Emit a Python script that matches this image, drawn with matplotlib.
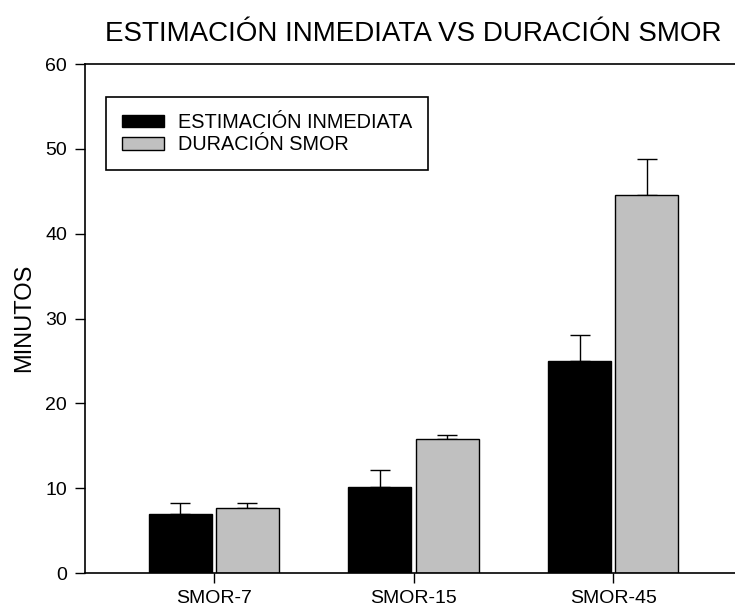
import numpy as np
import matplotlib.pyplot as plt

# datos
grupos = ["SMOR-7", "SMOR-15", "SMOR-45"]
estimacion = [6.9, 10.1, 25.0]
estimacion_err = [1.3, 2.0, 3.0]
duracion = [7.7, 15.8, 44.6]
duracion_err = [0.5, 0.5, 4.2]

plt.rcParams["font.family"] = ["Liberation Sans", "DejaVu Sans"]

W, H = 735, 608
fig = plt.figure(figsize=(W / 100, H / 100), dpi=100)
ax = fig.add_axes([85 / W, 1 - 573 / H, (742 - 85) / W, (573 - 64) / H])

x = np.arange(len(grupos))
ancho = 0.315
desp = 0.168

ax.bar(x - desp, estimacion, ancho, color="black", edgecolor="black",
       linewidth=1, label="ESTIMACIÓN INMEDIATA", zorder=2)
ax.bar(x + desp, duracion, ancho, color="#c0c0c0", edgecolor="black",
       linewidth=1, label="DURACIÓN SMOR", zorder=2)

ax.errorbar(x - desp, estimacion, yerr=[np.zeros(3), estimacion_err],
            fmt="none", ecolor="black", elinewidth=1, capsize=7, capthick=1, zorder=1)
ax.errorbar(x + desp, duracion, yerr=[np.zeros(3), duracion_err],
            fmt="none", ecolor="black", elinewidth=1, capsize=7, capthick=1, zorder=1)

ax.set_xlim(-0.645, 2.645)
ax.set_ylim(0, 60)
ax.set_yticks(range(0, 61, 10))
ax.set_xticks(x)
ax.set_xticklabels(grupos)
ax.tick_params(direction="out", length=7, width=1, labelsize=14, pad=6)
ax.tick_params(axis="x", pad=5.5)
ax.spines["right"].set_visible(False)
for s in ["left", "bottom", "top"]:
    ax.spines[s].set_linewidth(1.2)

ax.set_ylabel("MINUTOS", fontsize=17)
ax.yaxis.set_label_coords(35 / W, 1 - 318 / H, transform=fig.transFigure)
fig.text(413.5 / W, 1 - 41 / H, "ESTIMACIÓN INMEDIATA VS DURACIÓN SMOR",
         fontsize=20, ha="center", va="baseline")

leg = ax.legend(loc="upper left", bbox_to_anchor=(106 / W, 1 - 97 / H),
                bbox_transform=fig.transFigure, fontsize=14.3, frameon=True,
                fancybox=False, edgecolor="black", framealpha=1,
                handlelength=2.1, handleheight=0.6, handletextpad=0.7,
                borderpad=0.8, labelspacing=0.18, borderaxespad=0)
leg.get_frame().set_linewidth(1.2)

fig.savefig("out.png", dpi=100)
